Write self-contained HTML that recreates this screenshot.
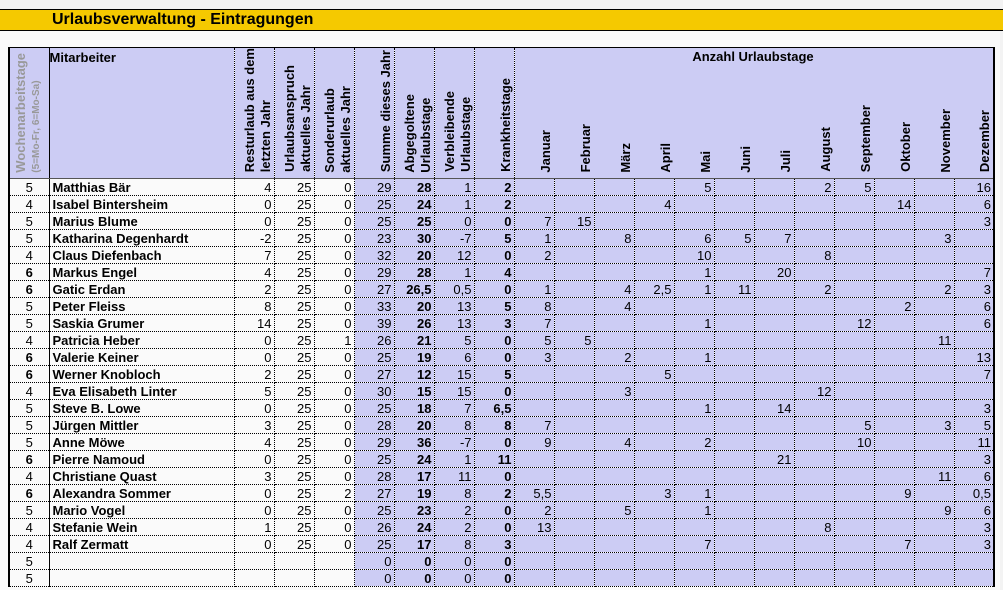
<!DOCTYPE html>
<html><head><meta charset="utf-8">
<style>
html,body{margin:0;padding:0;}
body{width:1003px;height:590px;background:#f3f3f3;position:relative;overflow:hidden;font-family:"Liberation Sans",Arial,sans-serif;}
.band{position:absolute;left:0;top:9px;width:1003px;height:20px;background:#f5c900;border-top:1px solid #000;border-bottom:1px solid #000;}
.band span{position:absolute;left:52px;top:1px;font-weight:bold;font-size:16px;color:#000;}
.white{position:absolute;left:0;top:31px;width:1000px;height:559px;background:#fafafa;}
table{position:absolute;left:8px;top:47px;border-collapse:collapse;table-layout:fixed;width:985px;font-size:13px;}
td{border:1px dotted #000;height:16px;padding:0 2px 0 0;text-align:right;line-height:15px;white-space:nowrap;overflow:hidden;color:#000;}
tr.h td{height:121px;background:#ccccf4;vertical-align:bottom;padding:0 0 3px 0;border-bottom:1px solid #555;border-top:1px solid #000;}
tr.h td.m{border-left:none;border-right:none;}
tr.h td.mf{border-right:none;}
tr.h td.ml{border-left:none;border-right:2px solid #000;}
.v{writing-mode:vertical-rl;transform:rotate(180deg);font-weight:bold;font-size:13px;line-height:16px;text-align:left;display:inline-block;margin-left:2px;}
td.w{text-align:center;padding:0;border-left:2px solid #000;}
td.n{text-align:left;font-weight:bold;padding-left:3px;border-left:1px solid #000;}
td.p{background:#ccccf4;}
td.b{font-weight:bold;}
td.r{border-right:2px solid #000;}
</style></head><body>
<div class="white"></div>
<div class="band"><span>Urlaubsverwaltung - Eintragungen</span></div>
<table>
<colgroup><col style="width:40px"><col style="width:185px"><col span="19" style="width:40px"></colgroup>
<tr class="h">
<td class="w" style="vertical-align:bottom;text-align:left"><div class="v" style="color:#999;margin-left:3px"><span style="font-size:13px">Wochenarbeitstage</span><br><span style="font-size:10px">(5=Mo-Fr, 6=Mo-Sa)</span></div></td>
<td class="n" style="vertical-align:top;padding-top:2px">Mitarbeiter</td>
<td><div class="v">Resturlaub aus dem<br>letzten Jahr</div></td>
<td><div class="v">Urlaubsanspruch<br>aktuelles Jahr</div></td>
<td><div class="v">Sonderurlaub<br>aktuelles Jahr</div></td>
<td><div class="v" style="margin-left:8px">Summe dieses Jahr</div></td>
<td><div class="v">Abgegoltene<br>Urlaubstage</div></td>
<td><div class="v">Verbleibende<br>Urlaubstage</div></td>
<td><div class="v" style="margin-left:8px">Krankheitstage</div></td>
<td class="mf"><div class="v" style="margin-left:8px">Januar</div></td>
<td class="m"><div class="v" style="margin-left:8px">Februar</div></td>
<td class="m"><div class="v" style="margin-left:8px">März</div></td>
<td class="m"><div class="v" style="margin-left:8px">April</div></td>
<td class="m"><div class="v" style="margin-left:8px">Mai</div></td>
<td class="m"><div class="v" style="margin-left:8px">Juni</div></td>
<td class="m"><div class="v" style="margin-left:8px">Juli</div></td>
<td class="m"><div class="v" style="margin-left:8px">August</div></td>
<td class="m"><div class="v" style="margin-left:8px">September</div></td>
<td class="m"><div class="v" style="margin-left:8px">Oktober</div></td>
<td class="m"><div class="v" style="margin-left:8px">November</div></td>
<td class="ml"><div class="v" style="margin-left:8px">Dezember</div></td>
</tr>
<tr><td class="w">5</td><td class="n">Matthias Bär</td><td>4</td><td>25</td><td>0</td><td class="p">29</td><td class="p b">28</td><td class="p">1</td><td class="p b">2</td><td class="p"></td><td class="p"></td><td class="p"></td><td class="p"></td><td class="p">5</td><td class="p"></td><td class="p"></td><td class="p">2</td><td class="p">5</td><td class="p"></td><td class="p"></td><td class="p r">16</td></tr>
<tr><td class="w">4</td><td class="n">Isabel Bintersheim</td><td>0</td><td>25</td><td>0</td><td class="p">25</td><td class="p b">24</td><td class="p">1</td><td class="p b">2</td><td class="p"></td><td class="p"></td><td class="p"></td><td class="p">4</td><td class="p"></td><td class="p"></td><td class="p"></td><td class="p"></td><td class="p"></td><td class="p">14</td><td class="p"></td><td class="p r">6</td></tr>
<tr><td class="w">5</td><td class="n">Marius Blume</td><td>0</td><td>25</td><td>0</td><td class="p">25</td><td class="p b">25</td><td class="p">0</td><td class="p b">0</td><td class="p">7</td><td class="p">15</td><td class="p"></td><td class="p"></td><td class="p"></td><td class="p"></td><td class="p"></td><td class="p"></td><td class="p"></td><td class="p"></td><td class="p"></td><td class="p r">3</td></tr>
<tr><td class="w">5</td><td class="n">Katharina Degenhardt</td><td>-2</td><td>25</td><td>0</td><td class="p">23</td><td class="p b">30</td><td class="p">-7</td><td class="p b">5</td><td class="p">1</td><td class="p"></td><td class="p">8</td><td class="p"></td><td class="p">6</td><td class="p">5</td><td class="p">7</td><td class="p"></td><td class="p"></td><td class="p"></td><td class="p">3</td><td class="p r"></td></tr>
<tr><td class="w">4</td><td class="n">Claus Diefenbach</td><td>7</td><td>25</td><td>0</td><td class="p">32</td><td class="p b">20</td><td class="p">12</td><td class="p b">0</td><td class="p">2</td><td class="p"></td><td class="p"></td><td class="p"></td><td class="p">10</td><td class="p"></td><td class="p"></td><td class="p">8</td><td class="p"></td><td class="p"></td><td class="p"></td><td class="p r"></td></tr>
<tr><td class="w b">6</td><td class="n">Markus Engel</td><td>4</td><td>25</td><td>0</td><td class="p">29</td><td class="p b">28</td><td class="p">1</td><td class="p b">4</td><td class="p"></td><td class="p"></td><td class="p"></td><td class="p"></td><td class="p">1</td><td class="p"></td><td class="p">20</td><td class="p"></td><td class="p"></td><td class="p"></td><td class="p"></td><td class="p r">7</td></tr>
<tr><td class="w b">6</td><td class="n">Gatic Erdan</td><td>2</td><td>25</td><td>0</td><td class="p">27</td><td class="p b">26,5</td><td class="p">0,5</td><td class="p b">0</td><td class="p">1</td><td class="p"></td><td class="p">4</td><td class="p">2,5</td><td class="p">1</td><td class="p">11</td><td class="p"></td><td class="p">2</td><td class="p"></td><td class="p"></td><td class="p">2</td><td class="p r">3</td></tr>
<tr><td class="w">5</td><td class="n">Peter Fleiss</td><td>8</td><td>25</td><td>0</td><td class="p">33</td><td class="p b">20</td><td class="p">13</td><td class="p b">5</td><td class="p">8</td><td class="p"></td><td class="p">4</td><td class="p"></td><td class="p"></td><td class="p"></td><td class="p"></td><td class="p"></td><td class="p"></td><td class="p">2</td><td class="p"></td><td class="p r">6</td></tr>
<tr><td class="w">5</td><td class="n">Saskia Grumer</td><td>14</td><td>25</td><td>0</td><td class="p">39</td><td class="p b">26</td><td class="p">13</td><td class="p b">3</td><td class="p">7</td><td class="p"></td><td class="p"></td><td class="p"></td><td class="p">1</td><td class="p"></td><td class="p"></td><td class="p"></td><td class="p">12</td><td class="p"></td><td class="p"></td><td class="p r">6</td></tr>
<tr><td class="w">4</td><td class="n">Patricia Heber</td><td>0</td><td>25</td><td>1</td><td class="p">26</td><td class="p b">21</td><td class="p">5</td><td class="p b">0</td><td class="p">5</td><td class="p">5</td><td class="p"></td><td class="p"></td><td class="p"></td><td class="p"></td><td class="p"></td><td class="p"></td><td class="p"></td><td class="p"></td><td class="p">11</td><td class="p r"></td></tr>
<tr><td class="w b">6</td><td class="n">Valerie Keiner</td><td>0</td><td>25</td><td>0</td><td class="p">25</td><td class="p b">19</td><td class="p">6</td><td class="p b">0</td><td class="p">3</td><td class="p"></td><td class="p">2</td><td class="p"></td><td class="p">1</td><td class="p"></td><td class="p"></td><td class="p"></td><td class="p"></td><td class="p"></td><td class="p"></td><td class="p r">13</td></tr>
<tr><td class="w b">6</td><td class="n">Werner Knobloch</td><td>2</td><td>25</td><td>0</td><td class="p">27</td><td class="p b">12</td><td class="p">15</td><td class="p b">5</td><td class="p"></td><td class="p"></td><td class="p"></td><td class="p">5</td><td class="p"></td><td class="p"></td><td class="p"></td><td class="p"></td><td class="p"></td><td class="p"></td><td class="p"></td><td class="p r">7</td></tr>
<tr><td class="w">4</td><td class="n">Eva Elisabeth Linter</td><td>5</td><td>25</td><td>0</td><td class="p">30</td><td class="p b">15</td><td class="p">15</td><td class="p b">0</td><td class="p"></td><td class="p"></td><td class="p">3</td><td class="p"></td><td class="p"></td><td class="p"></td><td class="p"></td><td class="p">12</td><td class="p"></td><td class="p"></td><td class="p"></td><td class="p r"></td></tr>
<tr><td class="w">5</td><td class="n">Steve B. Lowe</td><td>0</td><td>25</td><td>0</td><td class="p">25</td><td class="p b">18</td><td class="p">7</td><td class="p b">6,5</td><td class="p"></td><td class="p"></td><td class="p"></td><td class="p"></td><td class="p">1</td><td class="p"></td><td class="p">14</td><td class="p"></td><td class="p"></td><td class="p"></td><td class="p"></td><td class="p r">3</td></tr>
<tr><td class="w">5</td><td class="n">Jürgen Mittler</td><td>3</td><td>25</td><td>0</td><td class="p">28</td><td class="p b">20</td><td class="p">8</td><td class="p b">8</td><td class="p">7</td><td class="p"></td><td class="p"></td><td class="p"></td><td class="p"></td><td class="p"></td><td class="p"></td><td class="p"></td><td class="p">5</td><td class="p"></td><td class="p">3</td><td class="p r">5</td></tr>
<tr><td class="w">5</td><td class="n">Anne Möwe</td><td>4</td><td>25</td><td>0</td><td class="p">29</td><td class="p b">36</td><td class="p">-7</td><td class="p b">0</td><td class="p">9</td><td class="p"></td><td class="p">4</td><td class="p"></td><td class="p">2</td><td class="p"></td><td class="p"></td><td class="p"></td><td class="p">10</td><td class="p"></td><td class="p"></td><td class="p r">11</td></tr>
<tr><td class="w b">6</td><td class="n">Pierre Namoud</td><td>0</td><td>25</td><td>0</td><td class="p">25</td><td class="p b">24</td><td class="p">1</td><td class="p b">11</td><td class="p"></td><td class="p"></td><td class="p"></td><td class="p"></td><td class="p"></td><td class="p"></td><td class="p">21</td><td class="p"></td><td class="p"></td><td class="p"></td><td class="p"></td><td class="p r">3</td></tr>
<tr><td class="w">4</td><td class="n">Christiane Quast</td><td>3</td><td>25</td><td>0</td><td class="p">28</td><td class="p b">17</td><td class="p">11</td><td class="p b">0</td><td class="p"></td><td class="p"></td><td class="p"></td><td class="p"></td><td class="p"></td><td class="p"></td><td class="p"></td><td class="p"></td><td class="p"></td><td class="p"></td><td class="p">11</td><td class="p r">6</td></tr>
<tr><td class="w b">6</td><td class="n">Alexandra Sommer</td><td>0</td><td>25</td><td>2</td><td class="p">27</td><td class="p b">19</td><td class="p">8</td><td class="p b">2</td><td class="p">5,5</td><td class="p"></td><td class="p"></td><td class="p">3</td><td class="p">1</td><td class="p"></td><td class="p"></td><td class="p"></td><td class="p"></td><td class="p">9</td><td class="p"></td><td class="p r">0,5</td></tr>
<tr><td class="w">5</td><td class="n">Mario Vogel</td><td>0</td><td>25</td><td>0</td><td class="p">25</td><td class="p b">23</td><td class="p">2</td><td class="p b">0</td><td class="p">2</td><td class="p"></td><td class="p">5</td><td class="p"></td><td class="p">1</td><td class="p"></td><td class="p"></td><td class="p"></td><td class="p"></td><td class="p"></td><td class="p">9</td><td class="p r">6</td></tr>
<tr><td class="w">4</td><td class="n">Stefanie Wein</td><td>1</td><td>25</td><td>0</td><td class="p">26</td><td class="p b">24</td><td class="p">2</td><td class="p b">0</td><td class="p">13</td><td class="p"></td><td class="p"></td><td class="p"></td><td class="p"></td><td class="p"></td><td class="p"></td><td class="p">8</td><td class="p"></td><td class="p"></td><td class="p"></td><td class="p r">3</td></tr>
<tr><td class="w">4</td><td class="n">Ralf Zermatt</td><td>0</td><td>25</td><td>0</td><td class="p">25</td><td class="p b">17</td><td class="p">8</td><td class="p b">3</td><td class="p"></td><td class="p"></td><td class="p"></td><td class="p"></td><td class="p">7</td><td class="p"></td><td class="p"></td><td class="p"></td><td class="p"></td><td class="p">7</td><td class="p"></td><td class="p r">3</td></tr>
<tr><td class="w">5</td><td class="n"></td><td></td><td></td><td></td><td class="p">0</td><td class="p b">0</td><td class="p">0</td><td class="p b">0</td><td class="p"></td><td class="p"></td><td class="p"></td><td class="p"></td><td class="p"></td><td class="p"></td><td class="p"></td><td class="p"></td><td class="p"></td><td class="p"></td><td class="p"></td><td class="p r"></td></tr>
<tr><td class="w">5</td><td class="n"></td><td></td><td></td><td></td><td class="p">0</td><td class="p b">0</td><td class="p">0</td><td class="p b">0</td><td class="p"></td><td class="p"></td><td class="p"></td><td class="p"></td><td class="p"></td><td class="p"></td><td class="p"></td><td class="p"></td><td class="p"></td><td class="p"></td><td class="p"></td><td class="p r"></td></tr>
</table>
<div style="position:absolute;left:513px;width:480px;top:49px;text-align:center;font-weight:bold;font-size:13px;font-family:'Liberation Sans',Arial,sans-serif;">Anzahl Urlaubstage</div>
</body></html>
